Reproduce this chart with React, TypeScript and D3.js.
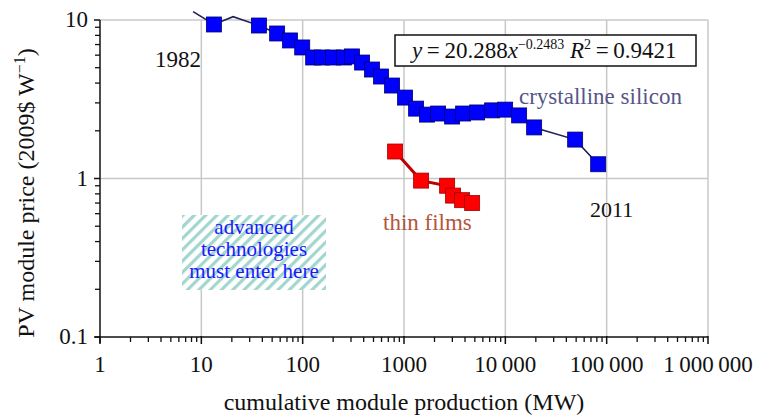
import React from 'react';
import * as d3 from 'd3';

// crystalline silicon (cumulative MW, 2009$/W)
const siliconProduction = [13.3, 37, 56, 75, 99, 127, 155, 200, 256, 307, 386, 484, 594, 763, 1025, 1317, 1690, 2171, 2984, 3832, 5266, 7408, 9954, 13683, 19244, 48870, 82450];
const siliconPrice = [9.37, 9.23, 8.22, 7.43, 6.71, 5.8, 5.8, 5.8, 5.8, 5.89, 5.39, 4.87, 4.4, 3.86, 3.24, 2.76, 2.53, 2.57, 2.46, 2.57, 2.61, 2.69, 2.72, 2.5, 2.1, 1.76, 1.23];
// line-only vertices (no visible marker)
const siliconLineOnlyProduction = [8.3, 20.6];
const siliconLineOnlyPrice = [11.3, 10.5];
// thin films
const thinFilmProduction = [817, 1475, 2665, 3052, 3747, 4702];
const thinFilmPrice = [1.48, 0.97, 0.9, 0.78, 0.73, 0.7];

const xTickValues = [1, 10, 100, 1000, 10000, 100000, 1000000];
const xTickLabels = ['1', '10', '100', '1000', '10\u2009000', '100\u2009000', '1\u2009000\u2009000'];
const yTickValues = [0.1, 1, 10];
const yTickLabels = ['0.1', '1', '10'];
const boxLines = ['advanced', 'technologies', 'must enter here'];

const FONT = '"Liberation Serif", "Times New Roman", serif';

export default function App() {
  const W = 762, H = 417;
  const x = d3.scaleLog().domain([1, 1e6]).range([100, 708]);
  const y = d3.scaleLog().domain([0.1, 10]).range([337, 20]);
  const [x0, x1] = x.range();
  const [yb, yt] = y.range();

  const minorX: number[] = [];
  for (let d = 1; d < 1e6; d *= 10) for (let k = 2; k <= 9; k++) minorX.push(d * k);
  const minorY: number[] = [];
  for (let d = 0.1; d < 10; d *= 10) for (let k = 2; k <= 9; k++) minorY.push(d * k);

  const siliconLinePts = siliconProduction.map((p, i) => [p, siliconPrice[i]] as [number, number])
    .concat(siliconLineOnlyProduction.map((p, i) => [p, siliconLineOnlyPrice[i]] as [number, number]))
    .sort((a, b) => a[0] - b[0]);
  const thinPts = thinFilmProduction.map((p, i) => [p, thinFilmPrice[i]] as [number, number]);
  const line = d3.line<[number, number]>().x(d => x(d[0])).y(d => y(d[1]));

  const sq = 15;

  return (
    <svg width={W} height={H} style={{ position: 'absolute', left: 0, top: 0, display: 'block', background: '#fff' }} fontFamily={FONT}>
      <defs>
        <pattern id="hatch" patternUnits="userSpaceOnUse" width="8" height="8" patternTransform="rotate(45)">
          <rect width="8" height="8" fill="#ffffff" />
          <rect x="0" width="3.2" height="8" fill="#a3d6cf" />
        </pattern>
      </defs>

      {/* gridlines */}
      {xTickValues.slice(1).map(v => (
        <line key={'gx' + v} x1={x(v)} x2={x(v)} y1={yt} y2={yb} stroke="#c8c8c8" strokeWidth={1.5} />
      ))}
      {yTickValues.slice(1).map(v => (
        <line key={'gy' + v} x1={x0} x2={x1} y1={y(v)} y2={y(v)} stroke="#c8c8c8" strokeWidth={1.5} />
      ))}

      {/* hatched box */}
      <rect x={182} y={215} width={144} height={75} fill="url(#hatch)" />
      {boxLines.map((t, i) => (
        <text key={'b' + i} x={254} y={234 + i * 22} fontSize={21} fill="#1a1aff" textAnchor="middle">{t}</text>
      ))}

      {/* axes */}
      <line x1={x0 - 5} x2={x1} y1={yb} y2={yb} stroke="#111" strokeWidth={1.5} />
      <line x1={x0} x2={x0} y1={yt} y2={yb + 6} stroke="#111" strokeWidth={1.5} />
      {minorX.map(v => (
        <line key={'mx' + v} x1={x(v)} x2={x(v)} y1={yb} y2={yb + 5} stroke="#111" strokeWidth={1.3} />
      ))}
      {xTickValues.map(v => (
        <line key={'tx' + v} x1={x(v)} x2={x(v)} y1={yb - 1} y2={yb + 7} stroke="#111" strokeWidth={1.5} />
      ))}
      {minorY.map(v => (
        <line key={'my' + v} x1={x0 - 5} x2={x0} y1={y(v)} y2={y(v)} stroke="#111" strokeWidth={1.3} />
      ))}
      {yTickValues.map(v => (
        <line key={'ty' + v} x1={x0 - 6} x2={x0} y1={y(v)} y2={y(v)} stroke="#111" strokeWidth={1.5} />
      ))}
      {xTickValues.map((v, i) => (
        <text key={'lx' + v} x={x(v)} y={372} fontSize={23} textAnchor="middle" fill="#111">{xTickLabels[i]}</text>
      ))}
      {yTickValues.map((v, i) => (
        <text key={'ly' + v} x={88} y={y(v) + 7} fontSize={23} textAnchor="end" fill="#111">{yTickLabels[i]}</text>
      ))}

      {/* axis titles */}
      <text x={404} y={410} fontSize={24} textAnchor="middle" fill="#111">cumulative module production (MW)</text>
      <text transform="translate(34,193) rotate(-90)" fontSize={24} textAnchor="middle" fill="#111">
        PV module price (2009$ W<tspan dy={-9} fontSize={16}>{'\u22121'}</tspan><tspan dy={9}>)</tspan>
      </text>

      {/* series lines */}
      <path d={line(siliconLinePts) || ''} fill="none" stroke="#1e1e5c" strokeWidth={1.6} />
      <path d={line(thinPts) || ''} fill="none" stroke="#c00000" strokeWidth={3} />

      {/* markers */}
      {siliconProduction.map((p, i) => (
        <rect key={'s' + i} x={x(p) - sq / 2} y={y(siliconPrice[i]) - sq / 2} width={sq} height={sq}
          fill="#0000ff" stroke="#00006e" strokeWidth={0.8} />
      ))}
      {thinFilmProduction.map((p, i) => (
        <rect key={'t' + i} x={x(p) - sq / 2} y={y(thinFilmPrice[i]) - sq / 2} width={sq} height={sq}
          fill="#ff0000" stroke="#a00000" strokeWidth={0.8} />
      ))}

      {/* annotations */}
      <text x={155} y={67} fontSize={23} fill="#111">1982</text>
      <text x={590} y={217} fontSize={22} fill="#111">2011</text>
      <text x={519} y={104} fontSize={23} fill="#56568a">crystalline silicon</text>
      <text x={383} y={230} fontSize={23} fill="#b4553c">thin films</text>

      {/* equation box */}
      <rect x={395} y={35} width={301} height={31} fill="#fff" stroke="#111" strokeWidth={1.5} />
      <text x={412} y={58} fontSize={23} fill="#111">
        <tspan fontStyle="italic">y</tspan>
        <tspan>{'\u2009=\u200920.288'}</tspan>
        <tspan fontStyle="italic">x</tspan>
        <tspan dy={-9} fontSize={14}>{'\u22120.2483'}</tspan>
        <tspan dy={9} fontStyle="italic">{' R'}</tspan>
        <tspan dy={-9} fontSize={14}>2</tspan>
        <tspan dy={9}>{'\u2009=\u20090.9421'}</tspan>
      </text>
    </svg>
  );
}
